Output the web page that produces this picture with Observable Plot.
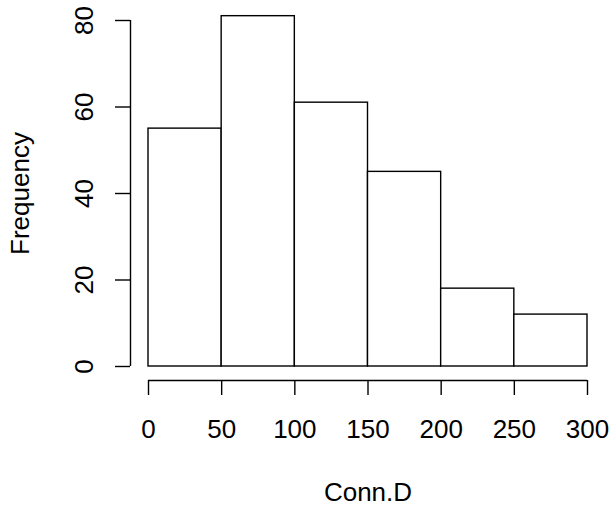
<!DOCTYPE html>
<html>
<head>
<meta charset="utf-8">
<script src="https://cdn.jsdelivr.net/npm/d3@7"></script>
<script src="https://cdn.jsdelivr.net/npm/@observablehq/plot@0.6"></script>
<style>
  html, body { margin: 0; padding: 0; background: white; }
</style>
</head>
<body>
<div id="chart"></div>
<script>
const binStart = [0, 50, 100, 150, 200, 250];
const binEnd = [50, 100, 150, 200, 250, 300];
const counts = [55, 81, 61, 45, 18, 12];
const xTicks = [0, 50, 100, 150, 200, 250, 300];
const yTicks = [0, 20, 40, 60, 80];
const xLabel = "Conn.D";
const yLabel = "Frequency";

const bins = binStart.map((s, i) => ({x1: s, x2: binEnd[i], count: counts[i]}));

const chart = Plot.plot({
  width: 612,
  height: 506,
  marginLeft: 148,
  marginRight: 25,
  marginTop: 20,
  marginBottom: 140,
  style: {fontFamily: "'Liberation Sans', Arial, Helvetica, sans-serif", fontSize: "26px", background: "white", color: "black"},
  x: {domain: [0, 300], axis: null},
  y: {domain: [0, 80], axis: null},
  marks: [
    Plot.rectY(bins, {x1: "x1", x2: "x2", y: "count", fill: "white", stroke: "black", strokeWidth: 1.4, clip: false}),
    Plot.ruleY([0], {x1: 0, x2: 300, dy: 14, stroke: "black", strokeWidth: 1.4}),
    Plot.axisX(xTicks, {anchor: "bottom", label: null, tickSize: 15, dy: 14, tickPadding: 34, lineAnchor: "middle", strokeWidth: 1.4, tickFormat: d => String(d), fill: "black"}),
    Plot.ruleX([0], {y1: 0, y2: 80, dx: -18, stroke: "black", strokeWidth: 1.4}),
    Plot.axisY(yTicks, {anchor: "left", label: null, tickSize: 15, dx: -18, tickPadding: 31, tickRotate: -90, textAnchor: "middle", lineAnchor: "middle", strokeWidth: 1.4, tickFormat: d => String(d), fill: "black"}),
    Plot.text([xLabel], {frameAnchor: "bottom", dy: 126, text: d => d, textAnchor: "middle", lineAnchor: "middle", fill: "black"}),
    Plot.text([yLabel], {frameAnchor: "left", dx: -128, rotate: -90, text: d => d, textAnchor: "middle", lineAnchor: "middle", fill: "black"})
  ]
});
document.getElementById("chart").appendChild(chart);
</script>
</body>
</html>
